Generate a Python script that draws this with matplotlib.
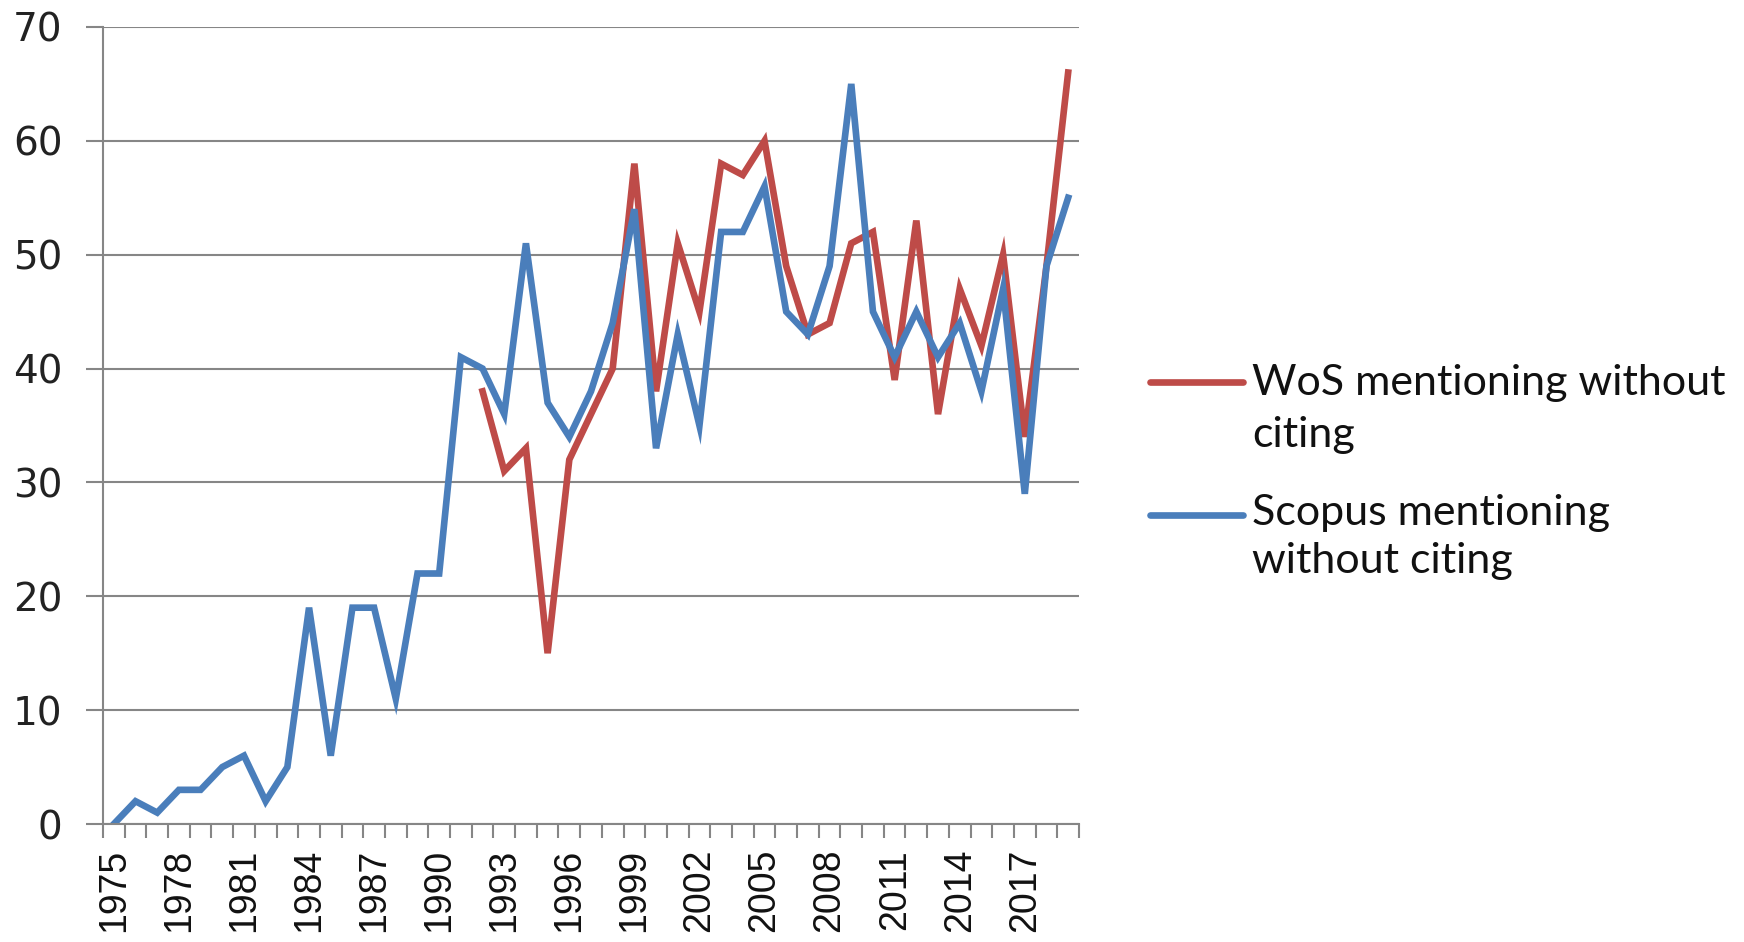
import numpy as np
import matplotlib
matplotlib.use('Agg')
import matplotlib.pyplot as plt
from matplotlib.lines import Line2D

# data
years = list(range(1975, 2020))
scopus = [0, 2, 1, 3, 3, 5, 6, 2, 5, 19, 6, 19, 19, 11, 22, 22, 41, 40, 36, 51,
          37, 34, 38, 44, 54, 33, 43, 35, 52, 52, 56, 45, 43, 49, 65, 45, 41, 45,
          41, 44, 38, 47, 29, 49, 55]
wos_years = list(range(1992, 2020))
wos = [38, 31, 33, 15, 32, 36, 40, 58, 38, 51, 45, 58, 57, 60, 49, 43, 44, 51,
       52, 39, 53, 36, 47, 42, 50, 34, 49, 66]
label_years = list(range(1975, 2020, 3))

red = '#BE4B48'
blue = '#4A7EBB'
grey = '#868686'

W, H = 1744, 942
fig = plt.figure(figsize=(W / 100, H / 100), dpi=100)
ax = fig.add_axes([103 / W, 1 - 824 / H, (1079 - 103) / W, (824 - 27) / H])

ax.plot(wos_years, wos, color=red, lw=4.8, solid_joinstyle='miter')
ax.plot(years, scopus, color=blue, lw=4.8, solid_joinstyle='miter')

ax.set_xlim(1974.5, 2019.5)
ax.set_ylim(0, 70)

# y axis
ax.set_yticks(range(0, 71, 10))
ax.tick_params(axis='y', length=12, width=1.5, color=grey, pad=17, labelsize=28,
               labelcolor='#222222')
ax.grid(axis='y', color=grey, lw=1.5)
ax.set_axisbelow(True)

# x axis: tick marks between categories, labels every 3 years
ax.set_xticks(np.arange(1974.5, 2020, 1))
ax.set_xticklabels([])
ax.tick_params(axis='x', which='major', length=10, width=1.5, color=grey)
ax.set_xticks(label_years, minor=True)
ax.set_xticklabels([str(y) for y in label_years], minor=True, rotation=90,
                   fontsize=27, family='Liberation Sans', color='#111111')
ax.tick_params(axis='x', which='minor', length=0, pad=18)

for side in ['top', 'right']:
    ax.spines[side].set_visible(False)
for side in ['left', 'bottom']:
    ax.spines[side].set_color(grey)
    ax.spines[side].set_linewidth(1.5)

# legend drawn by hand so the line sits beside the first text line
entries = [(red, 382, [('WoS mentioning without', 395), ('citing', 447)]),
           (blue, 515, [('Scopus mentioning', 525), ('without citing', 573)])]
for c, y, lines in entries:
    fig.add_artist(Line2D([1150 / W, 1243 / W], [1 - y / H, 1 - y / H],
                          color=c, lw=4.8, solid_capstyle='round'))
    for txt, base in lines:
        fig.text(1252 / W, 1 - base / H, txt, family='Lato', fontsize=31,
                 va='baseline', ha='left', color='#111111')

fig.savefig('out.png', dpi=100)
